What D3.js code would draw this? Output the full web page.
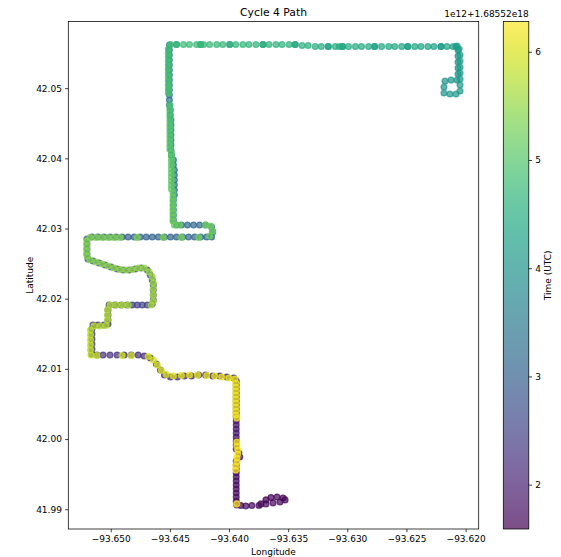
<!DOCTYPE html>
<html>
<head>
<meta charset="utf-8">
<script src="https://cdn.jsdelivr.net/npm/d3@7"></script>
<style>
  html, body { margin: 0; padding: 0; background: #fff; }
  svg { display: block; font-family: "DejaVu Sans", sans-serif; }
</style>
</head>
<body>
<div id="chart"></div>
<script>
// Cycle 4 Path: GPS fixes [lon, lat, time]; time in units of 1e12 ns above 1.68552e18

// outbound: start loop, west, then north along the lower street
const outBottom = [
  [-93.63730, 41.99076, 1.590], [-93.63688, 41.99133, 1.605], [-93.63645, 41.99168, 1.620],
  [-93.63594, 41.99175, 1.635], [-93.63543, 41.99161, 1.650], [-93.63526, 41.99133, 1.660],
  [-93.63569, 41.99104, 1.670], [-93.63628, 41.99090, 1.680], [-93.63688, 41.99076, 1.690],
  [-93.63747, 41.99054, 1.700], [-93.63807, 41.99054, 1.710], [-93.63858, 41.99047, 1.720],
  [-93.63900, 41.99054, 1.730], [-93.63934, 41.99062, 1.740],
  [-93.63939, 41.99118, 1.750], [-93.63939, 41.99175, 1.760], [-93.63939, 41.99232, 1.770],
  [-93.63939, 41.99289, 1.780], [-93.63939, 41.99346, 1.790], [-93.63939, 41.99403, 1.800],
  [-93.63939, 41.99460, 1.810], [-93.63939, 41.99517, 1.820], [-93.63939, 41.99574, 1.830],
  [-93.63939, 41.99631, 1.840], [-93.63939, 41.99688, 1.850], [-93.63909, 41.99745, 1.860],
  [-93.63917, 41.99802, 1.870], [-93.63939, 41.99859, 1.880], [-93.63939, 41.99916, 1.890],
  [-93.63939, 41.99973, 1.900], [-93.63939, 42.00030, 1.910], [-93.63939, 42.00087, 1.920],
  [-93.63939, 42.00144, 1.930], [-93.63939, 42.00201, 1.940], [-93.63939, 42.00258, 1.950],
  [-93.63939, 42.00315, 1.960], [-93.63939, 42.00372, 1.970], [-93.63939, 42.00429, 1.980],
  [-93.63939, 42.00486, 1.990], [-93.63939, 42.00543, 2.000], [-93.63939, 42.00600, 2.010],
  [-93.63939, 42.00657, 2.020], [-93.63939, 42.00714, 2.030], [-93.63939, 42.00771, 2.040],
  [-93.63939, 42.00828, 2.050]
];

// outbound: zig-zag west and north to the long north street
const outWest = [
  [-93.63960, 42.00870, 2.060], [-93.64019, 42.00885, 2.070], [-93.64079, 42.00899, 2.080],
  [-93.64138, 42.00899, 2.090], [-93.64198, 42.00913, 2.100], [-93.64257, 42.00913, 2.110],
  [-93.64317, 42.00899, 2.120], [-93.64376, 42.00899, 2.130], [-93.64436, 42.00885, 2.140],
  [-93.64495, 42.00885, 2.150], [-93.64546, 42.00913, 2.160], [-93.64580, 42.00984, 2.170],
  [-93.64614, 42.01070, 2.180], [-93.64665, 42.01155, 2.190], [-93.64717, 42.01184, 2.200],
  [-93.64768, 42.01198, 2.210], [-93.64827, 42.01198, 2.220], [-93.64887, 42.01198, 2.230],
  [-93.64946, 42.01198, 2.240], [-93.65006, 42.01198, 2.250], [-93.65065, 42.01198, 2.260],
  [-93.65116, 42.01198, 2.270], [-93.65159, 42.01212, 2.280], [-93.65159, 42.01284, 2.290],
  [-93.65159, 42.01355, 2.300], [-93.65159, 42.01426, 2.310], [-93.65159, 42.01497, 2.320],
  [-93.65159, 42.01568, 2.330], [-93.65150, 42.01625, 2.340], [-93.65108, 42.01625, 2.350],
  [-93.65057, 42.01625, 2.360], [-93.65023, 42.01640, 2.370], [-93.65023, 42.01697, 2.380],
  [-93.65023, 42.01768, 2.390], [-93.65023, 42.01839, 2.400], [-93.65014, 42.01910, 2.410],
  [-93.64963, 42.01910, 2.430], [-93.64912, 42.01910, 2.450], [-93.64861, 42.01910, 2.470],
  [-93.64819, 42.01910, 2.490], [-93.64776, 42.01910, 2.510], [-93.64734, 42.01910, 2.530],
  [-93.64691, 42.01910, 2.550], [-93.64649, 42.01925, 2.570], [-93.64640, 42.01982, 2.590],
  [-93.64640, 42.02053, 2.610], [-93.64640, 42.02124, 2.630], [-93.64640, 42.02195, 2.650],
  [-93.64649, 42.02266, 2.670], [-93.64666, 42.02338, 2.690], [-93.64691, 42.02409, 2.710],
  [-93.64742, 42.02437, 2.730], [-93.64793, 42.02423, 2.745], [-93.64844, 42.02409, 2.760],
  [-93.64895, 42.02409, 2.775], [-93.64946, 42.02423, 2.790], [-93.64997, 42.02452, 2.805],
  [-93.65048, 42.02480, 2.820], [-93.65099, 42.02509, 2.835], [-93.65150, 42.02537, 2.850],
  [-93.65193, 42.02566, 2.865], [-93.65201, 42.02637, 2.880], [-93.65201, 42.02708, 2.895],
  [-93.65201, 42.02779, 2.910], [-93.65201, 42.02850, 2.925],
  [-93.65159, 42.02879, 2.940], [-93.65108, 42.02879, 2.950], [-93.65057, 42.02879, 2.960],
  [-93.65006, 42.02879, 2.970], [-93.64955, 42.02879, 2.980], [-93.64904, 42.02879, 2.990],
  [-93.64853, 42.02879, 3.000], [-93.64802, 42.02879, 3.010], [-93.64751, 42.02879, 3.020],
  [-93.64700, 42.02879, 3.030], [-93.64649, 42.02879, 3.040], [-93.64598, 42.02879, 3.050],
  [-93.64546, 42.02879, 3.060], [-93.64495, 42.02879, 3.070], [-93.64444, 42.02879, 3.080],
  [-93.64393, 42.02879, 3.090], [-93.64342, 42.02879, 3.100], [-93.64291, 42.02879, 3.110],
  [-93.64240, 42.02879, 3.120], [-93.64189, 42.02879, 3.130], [-93.64147, 42.02879, 3.140],
  [-93.64138, 42.02950, 3.150], [-93.64147, 42.03021, 3.160],
  [-93.64198, 42.03050, 3.170], [-93.64249, 42.03050, 3.180], [-93.64300, 42.03050, 3.190],
  [-93.64351, 42.03050, 3.200], [-93.64402, 42.03050, 3.210], [-93.64444, 42.03050, 3.220]
];

// outbound: north along the western street
const outLeftColumn = [
  [-93.64470, 42.03121, 3.230], [-93.64470, 42.03192, 3.240], [-93.64470, 42.03264, 3.250],
  [-93.64470, 42.03335, 3.260], [-93.64470, 42.03406, 3.270], [-93.64462, 42.03477, 3.280],
  [-93.64462, 42.03548, 3.290], [-93.64462, 42.03620, 3.300], [-93.64462, 42.03691, 3.310],
  [-93.64462, 42.03762, 3.320], [-93.64462, 42.03833, 3.330], [-93.64470, 42.03905, 3.340],
  [-93.64470, 42.03976, 3.350], [-93.64487, 42.04047, 3.360], [-93.64491, 42.04118, 3.370],
  [-93.64491, 42.04190, 3.380], [-93.64491, 42.04261, 3.390], [-93.64491, 42.04332, 3.400],
  [-93.64491, 42.04403, 3.410], [-93.64491, 42.04474, 3.420], [-93.64491, 42.04546, 3.430],
  [-93.64496, 42.04617, 3.440], [-93.64496, 42.04688, 3.450], [-93.64504, 42.04759, 3.460],
  [-93.64504, 42.04831, 3.470], [-93.64504, 42.04902, 3.480], [-93.64504, 42.04973, 3.490],
  [-93.64504, 42.05044, 3.500], [-93.64504, 42.05115, 3.510], [-93.64504, 42.05187, 3.520],
  [-93.64504, 42.05258, 3.530], [-93.64504, 42.05329, 3.540], [-93.64504, 42.05400, 3.550],
  [-93.64504, 42.05472, 3.560], [-93.64504, 42.05543, 3.570], [-93.64504, 42.05614, 3.580]
];

// outbound: east along the northern road
const outTop = [
  [-93.64444, 42.05621, 3.600], [-93.64240, 42.05621, 3.630], [-93.63994, 42.05621, 3.660],
  [-93.63713, 42.05621, 3.690], [-93.63441, 42.05621, 3.720], [-93.63161, 42.05593, 3.750],
  [-93.63041, 42.05593, 3.780], [-93.62769, 42.05593, 3.810], [-93.62489, 42.05593, 3.840],
  [-93.62208, 42.05593, 3.870], [-93.62081, 42.05593, 3.900]
];

// turnaround loop at the north-east end
const rightLoop = [
  [-93.62064, 42.05543, 3.920], [-93.62064, 42.05458, 3.935], [-93.62064, 42.05373, 3.950],
  [-93.62064, 42.05286, 3.965], [-93.62064, 42.05201, 3.980], [-93.62072, 42.05115, 3.995],
  [-93.62123, 42.05115, 4.010], [-93.62174, 42.05101, 4.025], [-93.62183, 42.05016, 4.040],
  [-93.62183, 42.04930, 4.055], [-93.62132, 42.04916, 4.070], [-93.62081, 42.04916, 4.085],
  [-93.62047, 42.04959, 4.100], [-93.62047, 42.05044, 4.120], [-93.62047, 42.05130, 4.140],
  [-93.62047, 42.05215, 4.160], [-93.62047, 42.05301, 4.180], [-93.62047, 42.05386, 4.200],
  [-93.62047, 42.05472, 4.220], [-93.62055, 42.05557, 4.240], [-93.62072, 42.05600, 4.260]
];

// return: west along the northern road
const retTop = [
  [-93.62106, 42.05593, 4.280], [-93.62157, 42.05593, 4.292], [-93.62208, 42.05593, 4.304],
  [-93.62268, 42.05593, 4.316], [-93.62319, 42.05593, 4.328], [-93.62378, 42.05593, 4.340],
  [-93.62429, 42.05593, 4.352], [-93.62489, 42.05593, 4.364], [-93.62540, 42.05593, 4.376],
  [-93.62599, 42.05593, 4.388], [-93.62650, 42.05593, 4.400], [-93.62710, 42.05593, 4.412],
  [-93.62769, 42.05593, 4.424], [-93.62820, 42.05593, 4.436], [-93.62880, 42.05593, 4.448],
  [-93.62931, 42.05593, 4.460], [-93.62990, 42.05593, 4.472], [-93.63041, 42.05593, 4.484],
  [-93.63067, 42.05593, 4.490], [-93.63101, 42.05593, 4.500], [-93.63161, 42.05593, 4.512],
  [-93.63220, 42.05593, 4.524], [-93.63271, 42.05593, 4.536], [-93.63331, 42.05607, 4.548],
  [-93.63382, 42.05607, 4.560], [-93.63441, 42.05621, 4.572], [-93.63492, 42.05621, 4.584],
  [-93.63552, 42.05621, 4.596], [-93.63603, 42.05621, 4.608], [-93.63662, 42.05621, 4.620],
  [-93.63713, 42.05621, 4.632], [-93.63773, 42.05621, 4.644], [-93.63832, 42.05621, 4.656],
  [-93.63883, 42.05621, 4.668], [-93.63943, 42.05621, 4.680], [-93.63994, 42.05621, 4.692],
  [-93.64053, 42.05621, 4.704], [-93.64104, 42.05621, 4.716], [-93.64164, 42.05621, 4.728],
  [-93.64215, 42.05621, 4.740], [-93.64240, 42.05621, 4.746], [-93.64274, 42.05621, 4.756],
  [-93.64334, 42.05621, 4.768], [-93.64385, 42.05621, 4.780], [-93.64444, 42.05621, 4.792],
  [-93.64495, 42.05621, 4.800]
];

// return: south along the western street
const retLeftColumn = [
  [-93.64513, 42.05557, 4.810], [-93.64513, 42.05500, 4.819], [-93.64513, 42.05443, 4.828],
  [-93.64513, 42.05386, 4.837], [-93.64513, 42.05329, 4.846], [-93.64513, 42.05272, 4.855],
  [-93.64513, 42.05215, 4.864], [-93.64513, 42.05158, 4.873], [-93.64513, 42.05101, 4.882],
  [-93.64513, 42.05044, 4.891], [-93.64513, 42.04987, 4.900], [-93.64513, 42.04930, 4.909],
  [-93.64500, 42.04759, 4.931], [-93.64500, 42.04702, 4.940], [-93.64500, 42.04645, 4.949],
  [-93.64500, 42.04588, 4.958], [-93.64500, 42.04531, 4.967], [-93.64500, 42.04474, 4.976],
  [-93.64500, 42.04417, 4.985], [-93.64500, 42.04360, 4.994], [-93.64500, 42.04303, 5.003],
  [-93.64500, 42.04246, 5.012], [-93.64500, 42.04189, 5.021], [-93.64500, 42.04132, 5.030],
  [-93.64487, 42.04076, 5.039], [-93.64487, 42.04019, 5.048], [-93.64487, 42.03962, 5.057],
  [-93.64487, 42.03905, 5.066], [-93.64487, 42.03848, 5.075], [-93.64487, 42.03791, 5.084],
  [-93.64487, 42.03734, 5.093], [-93.64487, 42.03677, 5.102], [-93.64487, 42.03620, 5.111],
  [-93.64487, 42.03563, 5.120], [-93.64474, 42.03506, 5.129], [-93.64474, 42.03449, 5.138],
  [-93.64474, 42.03392, 5.147], [-93.64474, 42.03335, 5.156], [-93.64474, 42.03278, 5.165],
  [-93.64474, 42.03221, 5.174], [-93.64474, 42.03164, 5.183], [-93.64474, 42.03107, 5.192]
];

// return: zig-zag back south-east
const retWest = [
  [-93.64462, 42.03050, 5.200], [-93.64419, 42.03050, 5.205], [-93.64198, 42.03050, 5.215],
  [-93.64155, 42.03036, 5.222], [-93.64138, 42.02964, 5.230], [-93.64164, 42.02893, 5.240],
  [-93.64257, 42.02872, 5.255], [-93.64402, 42.02872, 5.275], [-93.64555, 42.02872, 5.295],
  [-93.64776, 42.02872, 5.320], [-93.64921, 42.02872, 5.340], [-93.64972, 42.02872, 5.347],
  [-93.65023, 42.02872, 5.354], [-93.65074, 42.02872, 5.361], [-93.65125, 42.02872, 5.368],
  [-93.65176, 42.02872, 5.375], [-93.65201, 42.02822, 5.385], [-93.65201, 42.02751, 5.395],
  [-93.65201, 42.02680, 5.405], [-93.65201, 42.02608, 5.415],
  [-93.65176, 42.02551, 5.430], [-93.65125, 42.02523, 5.445], [-93.65074, 42.02494, 5.460],
  [-93.65023, 42.02466, 5.475], [-93.64972, 42.02437, 5.490], [-93.64921, 42.02416, 5.505],
  [-93.64870, 42.02409, 5.520], [-93.64819, 42.02416, 5.535], [-93.64768, 42.02437, 5.550],
  [-93.64717, 42.02437, 5.565], [-93.64674, 42.02380, 5.580], [-93.64649, 42.02309, 5.595],
  [-93.64640, 42.02224, 5.610], [-93.64640, 42.02138, 5.625], [-93.64640, 42.02053, 5.640],
  [-93.64640, 42.01967, 5.655], [-93.64657, 42.01910, 5.670],
  [-93.64853, 42.01910, 5.690], [-93.64904, 42.01910, 5.700], [-93.64955, 42.01910, 5.710],
  [-93.65006, 42.01910, 5.720], [-93.65027, 42.01839, 5.735], [-93.65027, 42.01768, 5.745],
  [-93.65027, 42.01697, 5.755], [-93.65040, 42.01618, 5.765], [-93.65091, 42.01611, 5.775],
  [-93.65142, 42.01611, 5.785], [-93.65171, 42.01554, 5.800], [-93.65171, 42.01483, 5.810],
  [-93.65171, 42.01412, 5.820], [-93.65171, 42.01341, 5.830], [-93.65171, 42.01269, 5.840],
  [-93.65167, 42.01198, 5.850], [-93.65116, 42.01191, 5.880], [-93.64904, 42.01191, 5.920],
  [-93.64827, 42.01191, 5.935], [-93.64683, 42.01177, 5.960], [-93.64640, 42.01127, 5.975],
  [-93.64606, 42.01056, 5.990], [-93.64572, 42.00977, 6.005], [-93.64530, 42.00920, 6.020],
  [-93.64470, 42.00899, 6.035], [-93.64402, 42.00906, 6.050], [-93.64334, 42.00913, 6.065],
  [-93.64266, 42.00913, 6.080], [-93.64189, 42.00906, 6.095], [-93.64121, 42.00899, 6.110],
  [-93.64062, 42.00885, 6.120], [-93.64002, 42.00870, 6.130], [-93.63951, 42.00856, 6.140]
];

// return: south along the lower street to the finish
const retBottom = [
  [-93.63943, 42.00799, 6.150], [-93.63943, 42.00742, 6.155], [-93.63943, 42.00685, 6.160],
  [-93.63943, 42.00628, 6.165], [-93.63943, 42.00571, 6.170], [-93.63943, 42.00514, 6.175],
  [-93.63943, 42.00457, 6.180], [-93.63943, 42.00400, 6.185], [-93.63943, 42.00343, 6.190],
  [-93.63934, 42.00301, 6.195], [-93.63934, 41.99959, 6.210], [-93.63934, 41.99902, 6.215],
  [-93.63926, 41.99845, 6.220], [-93.63926, 41.99788, 6.225], [-93.63934, 41.99731, 6.230],
  [-93.63934, 41.99674, 6.235], [-93.63943, 41.99617, 6.240], [-93.63943, 41.99560, 6.245],
  [-93.63934, 41.99076, 6.280]
];

const xTickValues = [-93.650, -93.645, -93.640, -93.635, -93.630, -93.625, -93.620];
const yTickValues = [41.99, 42.00, 42.01, 42.02, 42.03, 42.04, 42.05];
const cbTickValues = [2, 3, 4, 5, 6];
const cbOffsetLabel = "1e12+1.68552e18";
const chartTitle = "Cycle 4 Path";

const W = 561, H = 557;
const plot = { left: 68.3, right: 478.7, top: 21.5, bottom: 529 };
const cbar = { left: 503.3, right: 528.8 };
const ALPHA = 0.7;

const points = [].concat(outBottom, outWest, outLeftColumn, outTop, rightLoop,
  retTop, retLeftColumn, retWest, retBottom)
  .map(d => ({ lon: d[0], lat: d[1], t: d[2] }))
  .sort((a, b) => a.t - b.t);

// matplotlib-style 5% margins around the data
function padded(ext) {
  const p = (ext[1] - ext[0]) * 0.05;
  return [ext[0] - p, ext[1] + p];
}

const x = d3.scaleLinear().domain(padded(d3.extent(points, d => d.lon))).range([plot.left, plot.right]);
const y = d3.scaleLinear().domain(padded(d3.extent(points, d => d.lat))).range([plot.bottom, plot.top]);
const tExtent = d3.extent(points, d => d.t);
const color = d3.scaleSequential(d3.interpolateViridis).domain(tExtent);
const cy = d3.scaleLinear().domain(tExtent).range([plot.bottom, plot.top]);

const svg = d3.select('#chart').append('svg')
  .attr('width', W)
  .attr('height', H);

// scatter
svg.append('g')
  .selectAll('circle')
  .data(points)
  .join('circle')
  .attr('cx', d => x(d.lon))
  .attr('cy', d => y(d.lat))
  .attr('r', 2.9)
  .attr('fill', d => color(d.t))
  .attr('fill-opacity', ALPHA)
  .attr('stroke', d => color(d.t))
  .attr('stroke-opacity', ALPHA)
  .attr('stroke-width', 1.3);

// axes
const tickLen = 3.2;
const xAxis = svg.append('g')
  .attr('transform', `translate(0,${plot.bottom})`)
  .call(d3.axisBottom(x).tickValues(xTickValues).tickFormat(d3.format('.3f')).tickSizeInner(tickLen).tickSizeOuter(0).tickPadding(3.2));
const yAxis = svg.append('g')
  .attr('transform', `translate(${plot.left},0)`)
  .call(d3.axisLeft(y).tickValues(yTickValues).tickFormat(d3.format('.2f')).tickSizeInner(tickLen).tickSizeOuter(0).tickPadding(3.2));

[xAxis, yAxis].forEach(g => {
  g.select('.domain').remove();
  g.selectAll('.tick line').attr('stroke', '#000').attr('stroke-width', 0.75);
  g.selectAll('.tick text')
    .attr('font-family', '"DejaVu Sans", sans-serif')
    .attr('font-size', 9)
    .attr('fill', '#000');
});

// frame
svg.append('rect')
  .attr('x', plot.left)
  .attr('y', plot.top)
  .attr('width', plot.right - plot.left)
  .attr('height', plot.bottom - plot.top)
  .attr('fill', 'none')
  .attr('stroke', '#000')
  .attr('stroke-width', 0.75);

// labels
svg.append('text')
  .attr('x', (plot.left + plot.right) / 2)
  .attr('y', 16)
  .attr('text-anchor', 'middle')
  .attr('font-size', 10.8)
  .text(chartTitle);

svg.append('text')
  .attr('x', (plot.left + plot.right) / 2)
  .attr('y', 555)
  .attr('text-anchor', 'middle')
  .attr('font-size', 9)
  .text('Longitude');

svg.append('text')
  .attr('transform', `translate(30,${(plot.top + plot.bottom) / 2}) rotate(-90)`)
  .attr('text-anchor', 'middle')
  .attr('dy', '0.35em')
  .attr('font-size', 9)
  .text('Latitude');

// colorbar: vertical gradient of the same colormap, same alpha
const grad = svg.append('defs').append('linearGradient')
  .attr('id', 'cbar-grad')
  .attr('x1', 0).attr('y1', 1)
  .attr('x2', 0).attr('y2', 0);
grad.selectAll('stop')
  .data(d3.range(0, 1.0001, 0.02))
  .join('stop')
  .attr('offset', f => f)
  .attr('stop-color', f => color(tExtent[0] + f * (tExtent[1] - tExtent[0])))
  .attr('stop-opacity', ALPHA);

svg.append('rect')
  .attr('x', cbar.left)
  .attr('y', plot.top)
  .attr('width', cbar.right - cbar.left)
  .attr('height', plot.bottom - plot.top)
  .attr('fill', 'url(#cbar-grad)')
  .attr('stroke', '#000')
  .attr('stroke-width', 0.75);

const cAxis = svg.append('g')
  .attr('transform', `translate(${cbar.right},0)`)
  .call(d3.axisRight(cy).tickValues(cbTickValues).tickFormat(d3.format('d')).tickSizeInner(tickLen).tickSizeOuter(0).tickPadding(3.2));
cAxis.select('.domain').remove();
cAxis.selectAll('.tick line').attr('stroke', '#000').attr('stroke-width', 0.75);
cAxis.selectAll('.tick text')
  .attr('font-family', '"DejaVu Sans", sans-serif')
  .attr('font-size', 9)
  .attr('fill', '#000');

svg.append('text')
  .attr('x', cbar.right)
  .attr('y', 16.5)
  .attr('text-anchor', 'end')
  .attr('font-size', 9)
  .text(cbOffsetLabel);

svg.append('text')
  .attr('transform', `translate(548,${(plot.top + plot.bottom) / 2}) rotate(-90)`)
  .attr('text-anchor', 'middle')
  .attr('dy', '0.35em')
  .attr('font-size', 9)
  .text('Time (UTC)');
</script>
</body>
</html>
